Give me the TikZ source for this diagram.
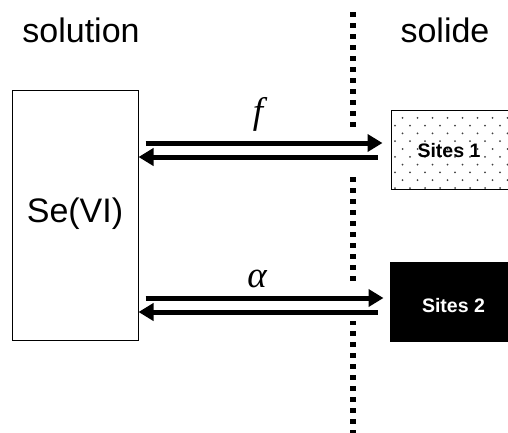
\documentclass[tikz,border=0pt]{standalone}
\usepackage{fontspec}
\setmainfont{Liberation Sans}
\newfontfamily\timesf{Liberation Serif}
\usetikzlibrary{arrows.meta}
\begin{document}
\begin{tikzpicture}[x=1pt,y=-1pt,
  big/.style={font=\fontsize{34}{40}\selectfont, anchor=base, inner sep=0pt},
  sitelab/.style={font=\bfseries\fontsize{19.5}{22}\selectfont, anchor=base, inner sep=0pt},
  greek/.style={font=\timesf\itshape\fontsize{37}{40}\selectfont, anchor=base, inner sep=0pt},
  fat/.style={line width=5pt, -{Triangle[length=15pt,width=17pt]}},
  boxthin/.style={draw, line width=1pt, inner sep=0pt}]
\useasboundingbox (0,0) rectangle (508,432);
\clip (0,0) rectangle (508,432);
% titles
\node[big] (tsol) at (81,42) {solution};
\node[big] (tsolide) at (445,42) {solide};
% dotted boundary
\coordinate (dtop) at (353,12);
\coordinate (dbot) at (353,440);
\draw[line width=6pt, dash pattern=on 5pt off 6pt] (dtop) -- (dbot);
\fill[white] (344,133) rectangle (362,173);
\fill[white] (344,285) rectangle (362,321);
% Se(VI) box
\node[boxthin, minimum width=126pt, minimum height=250pt] (se) at (75,215) {};
\node[big] (setxt) at (75,222) {Se(VI)};
% Sites 1 box with dot pattern
\begin{scope}
  \clip (391,110) rectangle (512,189);
  \foreach \r in {0,...,10} {
    \foreach \c in {0,...,8} {
      \fill[black!75] ({395+15*\c+mod(\r,2)*7.5},{110+7.8*\r}) circle (1pt);
    }
  }
\end{scope}
\node[boxthin, minimum width=121pt, minimum height=79pt] (s1) at (451.5,149.5) {};
\node[sitelab] (s1txt) at (449,157) {Sites 1};
% Sites 2 box
\node[boxthin, fill=black, minimum width=122pt, minimum height=79pt] (s2) at (451,301.5) {};
\node[sitelab, text=white] (s2txt) at (453.5,312) {Sites 2};
% arrow rows
\coordinate (r1) at (0,143);
\coordinate (r2) at (0,157);
\coordinate (r3) at (0,298);
\coordinate (r4) at (0,312);
\draw[fat, shorten <=7pt, shorten >=8pt] (se.east |- r1) -- (s1.west |- r1);
\draw[fat, shorten <=13pt] (s1.west |- r2) -- (se.east |- r2);
\draw[fat, shorten <=7pt, shorten >=6pt] (se.east |- r3) -- (s2.west |- r3);
\draw[fat, shorten <=12pt] (s2.west |- r4) -- (se.east |- r4);
% labels
\node[greek] (flab) at (258,123) {f};
\node[greek] (alab) at (257,287) {α};
\end{tikzpicture}
\end{document}
